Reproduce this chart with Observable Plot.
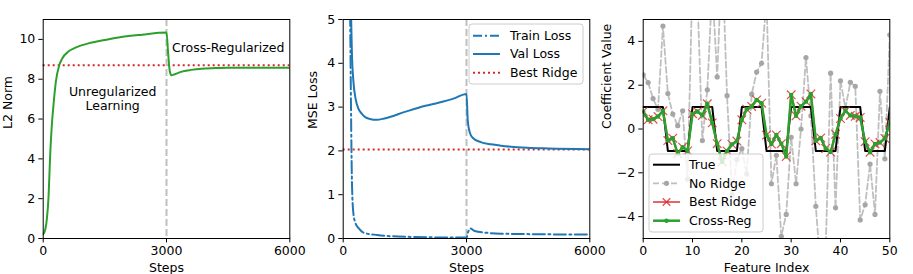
<!DOCTYPE html>
<html><head><meta charset="utf-8">
<script src="https://cdn.jsdelivr.net/npm/d3@7"></script>
<script src="https://cdn.jsdelivr.net/npm/@observablehq/plot@0.6"></script>
<style>
body{margin:0;background:#fff}
#wrap{position:relative;width:913px;height:274px;overflow:hidden;font-family:"DejaVu Sans",sans-serif}
</style>
</head><body><div id="wrap"></div>
<script>
// ---- Panel 1: L2 norm ----
const normSteps = [0, 50, 90, 130, 170, 210, 250, 310, 390, 450, 620, 800, 1100, 1500, 1900, 2400, 3000, 3040, 3080, 3120, 3200, 3350, 3600, 3850, 4200, 4500, 5000, 6000];
const l2Norm    = [0.22, 0.45, 1.0, 2.1, 4.2, 5.7, 6.7, 7.9, 8.7, 9.0, 9.4, 9.6, 9.8, 9.97, 10.12, 10.24, 10.35, 9.3, 8.4, 8.2, 8.25, 8.37, 8.47, 8.53, 8.56, 8.58, 8.58, 8.57];
const bestRidgeNorm = 8.7;
const switchStep = 3000;
const annoText = ["Cross-Regularized", "Unregularized\nLearning"];
const annoStep = [4500, 1690];
const annoVal  = [9.6, 7.05];

// ---- Panel 2: MSE loss ----
const valSteps = [150, 194, 210, 250, 300, 372, 450, 535, 650, 817, 1000, 1500, 2000, 2316, 2700, 3000, 3030, 3080, 3150, 3345, 3600, 3832, 4481, 5000, 6000];
const valLoss  = [7.0, 5.0, 4.3, 3.57, 3.2, 2.96, 2.85, 2.77, 2.73, 2.71, 2.74, 2.89, 3.03, 3.1, 3.2, 3.3, 2.7, 2.42, 2.3, 2.2, 2.15, 2.12, 2.07, 2.055, 2.04];
const trainSteps = [100, 170, 195, 215, 250, 300, 380, 500, 830, 1500, 3000, 3040, 3090, 3200, 3500, 3840, 4500, 6000];
const trainLoss  = [8.0, 5.0, 2.5, 1.2, 0.55, 0.35, 0.23, 0.13, 0.08, 0.04, 0.02, 0.15, 0.23, 0.17, 0.13, 0.11, 0.1, 0.09];
const bestRidgeMSE = 2.03;

// ---- Panel 3: coefficients ----
const featureIndex = [0,1,2,3,4,5,6,7,8,9,10,11,12,13,14,15,16,17,18,19,20,21,22,23,24,25,26,27,28,29,30,31,32,33,34,35,36,37,38,39,40,41,42,43,44,45,46,47,48,49,50];
const trueCoef = [1,1,1,1,1,-1,-1,-1,-1,-1,1,1,1,1,1,-1,-1,-1,-1,-1,1,1,1,1,1,-1,-1,-1,-1,-1,1,1,1,1,1,-1,-1,-1,-1,-1,1,1,1,1,1,-1,-1,-1,-1,-1,1];
const noRidge = [2.47,2.12,1.39,0.9,4.7,1.62,0.68,0.15,0.83,-2.3,7.0,6.0,-0.53,1.79,6.5,2.38,8.0,1.52,-3.0,-1.4,-0.9,-2.05,1.59,2.6,3.0,6.0,-2.5,-1.2,-4.9,-3.9,-0.38,-2.5,0.0,3.26,0.6,-3.53,-6.5,-5.5,2.55,-3.6,2.2,0.95,2.13,1.95,-4.15,-3.46,-1.6,-3.9,1.72,-1.36,4.3];
const bestRidge = [0.8,0.42,0.45,0.57,0.83,-0.53,-0.42,-1.12,-0.83,-1.0,0.7,0.8,0.62,1.15,0.28,-0.67,-1.5,-1.0,-0.7,-0.55,0.42,0.9,1.03,1.33,1.18,-0.28,-0.69,-0.27,-0.67,-1.26,1.56,0.6,1.04,1.25,1.6,-0.54,-0.41,-0.89,-1.05,-0.24,0.48,0.83,0.62,0.58,0.53,-0.58,-1.06,-0.68,-0.62,-0.43,0.3];
const crossReg  = [0.8,0.42,0.45,0.57,0.83,-0.53,-0.42,-1.12,-0.83,-1.0,0.7,0.8,0.62,1.15,0.28,-0.67,-1.5,-1.0,-0.7,-0.55,0.42,0.9,1.03,1.33,1.18,-0.28,-0.69,-0.27,-0.67,-1.26,1.56,0.6,1.04,1.25,1.6,-0.54,-0.41,-0.89,-1.05,-0.24,0.48,0.83,0.62,0.58,0.53,-0.58,-1.06,-0.68,-0.62,-0.43,0.3];

// ---- colours ----
const GREEN = "#2ca02c", BLUE = "#1f77b4", RED = "#d62728", GRAY = "#bfbfbf";
const FS = 12.5;

const wrap = document.getElementById("wrap");
const fmt = d => (d < 0 ? "\u2212" + Math.abs(d) : String(d));

function panel(left, width, marginLeft, marginRight, x, y, marks) {
  const svg = Plot.plot({
    width, height: 274, marginTop: 19, marginBottom: 36, marginLeft, marginRight,
    style: {fontFamily: '"DejaVu Sans", sans-serif', fontSize: FS + "px", color: "#000", background: "none", overflow: "visible"},
    x, y, marks
  });
  svg.style.position = "absolute";
  svg.style.left = left + "px";
  svg.style.top = "0px";
  svg.style.overflow = "visible";
  wrap.appendChild(svg);
}
function axes(xt, yt, xlabel, ylabel, ylabOff) {
  return [
    Plot.axisX({ticks: xt, tickSize: 4.4, tickPadding: 3.5, tickFormat: fmt, label: null, fontSize: FS}),
    Plot.axisY({ticks: yt, tickSize: 4.4, tickPadding: 3.5, tickFormat: fmt, label: null, fontSize: FS}),
    Plot.text([xlabel], {frameAnchor: "bottom", dy: 33, text: d => d, fontSize: FS}),
    Plot.text([ylabel], {frameAnchor: "left", dx: -ylabOff, rotate: -90, text: d => d, fontSize: FS}),
    Plot.frame({stroke: "#000", strokeWidth: 1})
  ];
}

// Panel 1
const normData = normSteps.map((s, i) => ({s, v: l2Norm[i]}));
const annos = annoText.map((t, i) => ({t, x: annoStep[i], y: annoVal[i]}));
panel(0, 300, 42.7, 10.7, {domain: [0, 6000]}, {domain: [0, 11]}, [
  Plot.ruleX([switchStep], {stroke: GRAY, strokeWidth: 2, strokeDasharray: "7,3"}),
  Plot.ruleY([bestRidgeNorm], {stroke: RED, strokeWidth: 2, strokeDasharray: "2,3"}),
  Plot.line(normData, {x: "s", y: "v", stroke: GREEN, strokeWidth: 2, curve: "monotone-x", clip: true}),
  Plot.text(annos, {x: "x", y: "y", text: "t", fontSize: FS, lineHeight: 1.17}),
  ...axes([0, 3000, 6000], [0, 2, 4, 6, 8, 10], "Steps", "L2 Norm", 35)
]);

// Panel 2
const valData = valSteps.map((s, i) => ({s, v: valLoss[i]}));
const trainData = trainSteps.map((s, i) => ({s, v: trainLoss[i]}));
panel(300, 300, 42.7, 10.7, {domain: [0, 6000]}, {domain: [0, 5]}, [
  Plot.ruleX([switchStep], {stroke: GRAY, strokeWidth: 2, strokeDasharray: "7,3"}),
  Plot.ruleY([bestRidgeMSE], {stroke: RED, strokeWidth: 2, strokeDasharray: "2,3"}),
  Plot.line(trainData, {x: "s", y: "v", stroke: BLUE, strokeWidth: 2, strokeDasharray: "12,3.5,2,3.5", curve: "monotone-x", clip: true}),
  Plot.line(valData, {x: "s", y: "v", stroke: BLUE, strokeWidth: 2, curve: "monotone-x", clip: true}),
  ...axes([0, 3000, 6000], [0, 1, 2, 3, 4, 5], "Steps", "MSE Loss", 30)
]);

// Panel 3
const coef = featureIndex.map((i, k) => ({i, t: trueCoef[k], n: noRidge[k], b: bestRidge[k], c: crossReg[k]}));
panel(600, 313, 42.7, 23.7, {domain: [0, 50]}, {domain: [-5, 5]}, [
  Plot.line(coef, {x: "i", y: "n", stroke: GRAY, strokeWidth: 1.8, strokeDasharray: "6,3", clip: true}),
  Plot.dot(coef, {x: "i", y: "n", fill: "#a6a6a6", r: 2.6, clip: true}),
  Plot.line(coef, {x: "i", y: "t", stroke: "#000", strokeWidth: 2, clip: true}),
  Plot.line(coef, {x: "i", y: "b", stroke: RED, strokeOpacity: 0.7, strokeWidth: 2, clip: true}),
  Plot.dot(coef, {x: "i", y: "b", symbol: "times", stroke: RED, strokeOpacity: 0.8, strokeWidth: 1.2, r: 4, clip: true}),
  Plot.line(coef, {x: "i", y: "c", stroke: GREEN, strokeWidth: 2.5, clip: true}),
  Plot.dot(coef, {x: "i", y: "c", fill: GREEN, r: 2.2, clip: true}),
  ...axes([0, 10, 20, 30, 40, 50], [-4, -2, 0, 2, 4], "Feature Index", "Coefficient Value", 36)
]);

// ---- Legends (overlay) ----
const ov = d3.select(wrap).append("svg")
  .attr("width", 913).attr("height", 274)
  .style("position", "absolute").style("left", "0px").style("top", "0px")
  .style("font-family", '"DejaVu Sans", sans-serif').style("font-size", FS + "px");

function legend(box, items) {
  ov.append("rect").attr("x", box[0]).attr("y", box[1]).attr("width", box[2]).attr("height", box[3])
    .attr("rx", 3).attr("fill", "#fff").attr("fill-opacity", 0.8).attr("stroke", "#cccccc").attr("stroke-width", 1);
  for (const it of items) {
    const g = ov.append("g");
    g.append("line").attr("x1", it.x1).attr("x2", it.x2).attr("y1", it.y).attr("y2", it.y)
      .attr("stroke", it.stroke).attr("stroke-width", it.sw).attr("stroke-dasharray", it.dash || null)
      .attr("stroke-opacity", it.op || 1);
    const mx = (it.x1 + it.x2) / 2;
    if (it.marker === "dot") g.append("circle").attr("cx", mx).attr("cy", it.y).attr("r", it.mr).attr("fill", it.mfill);
    if (it.marker === "x") g.append("path").attr("d", `M${mx-3.8},${it.y-3.8}L${mx+3.8},${it.y+3.8}M${mx-3.8},${it.y+3.8}L${mx+3.8},${it.y-3.8}`)
      .attr("stroke", RED).attr("stroke-opacity", 0.8).attr("stroke-width", 1.3);
    g.append("text").attr("x", it.tx).attr("y", it.y).attr("dy", "0.35em").attr("fill", "#000").text(it.label);
  }
}
legend([469, 24, 114, 60], [
  {label: "Train Loss", y: 35.7, x1: 473, x2: 500, tx: 510, stroke: BLUE, sw: 2, dash: "9,3,2,3"},
  {label: "Val Loss", y: 54, x1: 473, x2: 500, tx: 510, stroke: BLUE, sw: 2},
  {label: "Best Ridge", y: 72.7, x1: 473, x2: 500, tx: 510, stroke: RED, sw: 2, dash: "2,3"}
]);
legend([649, 154, 114, 78], [
  {label: "True", y: 164.7, x1: 653, x2: 680, tx: 689, stroke: "#000", sw: 2},
  {label: "No Ridge", y: 183.3, x1: 653, x2: 680, tx: 689, stroke: GRAY, sw: 1.8, dash: "6,3", marker: "dot", mr: 2.6, mfill: "#a6a6a6"},
  {label: "Best Ridge", y: 202, x1: 653, x2: 680, tx: 689, stroke: RED, sw: 2, op: 0.7, marker: "x"},
  {label: "Cross-Reg", y: 220.7, x1: 653, x2: 680, tx: 689, stroke: GREEN, sw: 2.5, marker: "dot", mr: 2.2, mfill: GREEN}
]);
</script>
</body></html>
